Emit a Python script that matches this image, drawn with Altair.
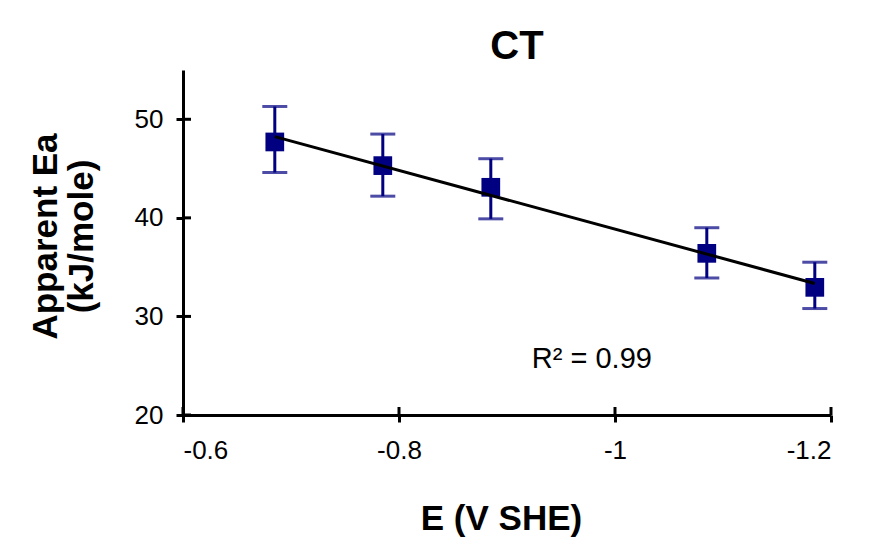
import altair as alt
import pandas as pd

# ---- data ----
E = [-0.685, -0.785, -0.885, -1.085, -1.185]
Ea = [47.7, 45.3, 43.1, 36.4, 32.95]
Ea_hi = [51.3, 48.5, 46.0, 39.0, 35.5]
Ea_lo = [44.6, 42.2, 39.9, 33.9, 30.8]
x_ticks = [-0.6, -0.8, -1.0, -1.2]
y_ticks = [20, 30, 40, 50]
r2_label = ["R² = 0.99"]
r2_E = [-0.923]
r2_Ea = [24.8]

df = pd.DataFrame({"E": E, "Ea": Ea, "hi": Ea_hi, "lo": Ea_lo})
df_xt = pd.DataFrame({"E": x_ticks})
df_yt = pd.DataFrame({"Ea": y_ticks})
df_r2 = pd.DataFrame({"E": r2_E, "Ea": r2_Ea, "label": r2_label})

FONT = "Liberation Sans"
NAVY = "#000080"
W, H = 648, 345

xscale = alt.Scale(domain=[-1.2, -0.6], reverse=True, nice=False, zero=False)
yscale = alt.Scale(domain=[20, 55], nice=False, zero=False)

xaxis = alt.Axis(
    values=x_ticks,
    labelExpr="toString(datum.value)",
    title="E (V SHE)",
    titleFont=FONT, titleFontSize=35, titleFontWeight="bold", titleColor="black",
    titleX=318, titleY=114, titleAlign="center", titleBaseline="alphabetic",
    labelPadding=15,
)
yaxis = alt.Axis(
    values=y_ticks,
    title=["Apparent Ea", "(kJ/mole)"],
    titleFont=FONT, titleFontSize=35, titleFontWeight="bold", titleColor="black",
    titleAngle=270, titleX=-127, titleY=166, titleAlign="center",
    titleBaseline="alphabetic", titleLineHeight=36,
    labelPadding=13,
)

X = alt.X("E:Q", scale=xscale)
Y = alt.Y("Ea:Q", scale=yscale)

bars = alt.Chart(df).mark_rule(color=NAVY, strokeWidth=3).encode(
    x=alt.X("E:Q", scale=xscale, axis=xaxis),
    y=alt.Y("lo:Q", scale=yscale, axis=yaxis),
    y2="hi:Q",
)
cap_hi = alt.Chart(df).mark_tick(color=NAVY, thickness=3, size=25, orient="horizontal").encode(
    x=X, y=alt.Y("hi:Q", scale=yscale)
)
cap_lo = alt.Chart(df).mark_tick(color=NAVY, thickness=3, size=25, orient="horizontal").encode(
    x=X, y=alt.Y("lo:Q", scale=yscale)
)
pts = alt.Chart(df).mark_point(shape="square", filled=True, size=350, color=NAVY, opacity=1).encode(
    x=X, y=Y
)
fit = alt.Chart(df).transform_regression("E", "Ea").mark_line(color="black", strokeWidth=3).encode(
    x=X, y=Y
)
ytick_in = alt.Chart(df_yt).mark_rule(color="black", strokeWidth=3).encode(
    y=Y, x=alt.value(0), x2=alt.value(8)
)
xtick_in = alt.Chart(df_xt).mark_rule(color="black", strokeWidth=3).encode(
    x=X, y=alt.value(H), y2=alt.value(H - 8)
)
r2 = alt.Chart(df_r2).mark_text(
    font=FONT, fontSize=29, align="left", baseline="alphabetic", color="black"
).encode(x=X, y=Y, text="label:N")

chart = alt.layer(bars, cap_hi, cap_lo, pts, fit, ytick_in, xtick_in, r2).properties(
    width=W, height=H,
    title=alt.TitleParams("CT", font=FONT, fontSize=40, fontWeight="bold", color="black",
                          anchor="middle", dx=10, offset=3),
    autosize=alt.AutoSizeParams(type="none"),
    padding={"left": 175, "top": 62, "right": 31, "bottom": 122},
    background="white",
).configure_view(stroke=None).configure_axis(
    grid=False, domainColor="black", domainWidth=3, tickColor="black", tickWidth=3,
    tickSize=7, labelFont=FONT, labelFontSize=26, labelColor="black",
)

chart.save("out.html", embed_options={"renderer": "svg", "actions": False})
